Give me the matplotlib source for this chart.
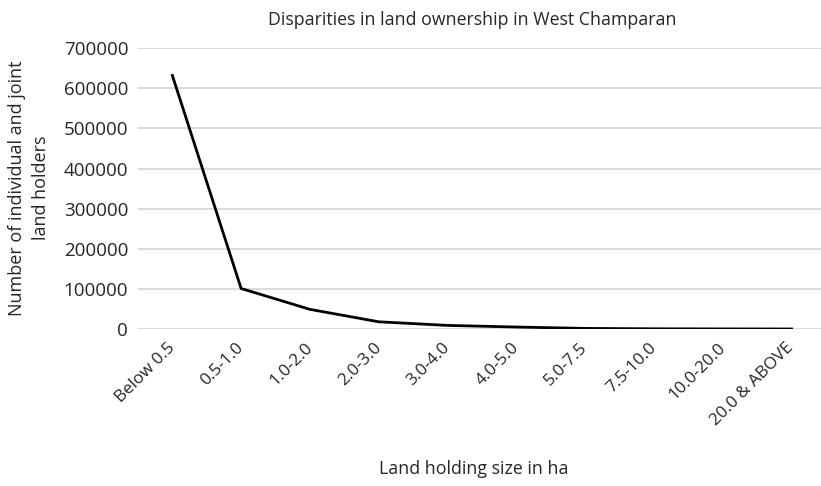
import matplotlib
matplotlib.use("Agg")
import matplotlib.pyplot as plt

categories = ["Below 0.5", "0.5-1.0", "1.0-2.0", "2.0-3.0", "3.0-4.0", "4.0-5.0",
              "5.0-7.5", "7.5-10.0", "10.0-20.0", "20.0 & ABOVE"]
holders = [632000, 101000, 49000, 18000, 9000, 5000, 1500, 600, 300, 100]
yticks = [0, 100000, 200000, 300000, 400000, 500000, 600000, 700000]

plt.rcParams["font.family"] = ["Open Sans", "DejaVu Sans"]
txt = "#262626"

fig = plt.figure(figsize=(8.21, 4.86), dpi=100)
ax = fig.add_axes([0.168, 0.323, 0.838, 0.578])

x = list(range(len(categories)))
ax.plot(x, holders, color="black", linewidth=2.0)

ax.set_xlim(-0.5, len(categories) - 0.5)
ax.set_ylim(0, 700000)
ax.set_yticks(yticks)
ax.set_yticklabels([str(v) for v in yticks], fontsize=13.5, color=txt)
ax.set_xticks(x)
ax.set_xticklabels(categories, rotation=45, ha="right", va="center",
                   rotation_mode="anchor", fontsize=12.3, color=txt)
ax.tick_params(axis="both", length=0)
ax.tick_params(axis="y", pad=7)
ax.tick_params(axis="x", pad=12)

ax.grid(axis="y", color="#d9d9d9", linewidth=1.3)
ax.set_axisbelow(True)
for sp in ax.spines.values():
    sp.set_visible(False)

fig.text(0.575, 0.958, "Disparities in land ownership in West Champaran",
         ha="center", va="center", fontsize=12.8, color=txt)
fig.text(0.035, 0.613, "Number of individual and joint\nland holders", rotation=90,
         ha="center", va="center", fontsize=13, color=txt, linespacing=1.4)
fig.text(0.577, 0.025, "Land holding size in ha", ha="center", fontsize=12.8,
         color=txt)

fig.savefig("out.png", dpi=100)
